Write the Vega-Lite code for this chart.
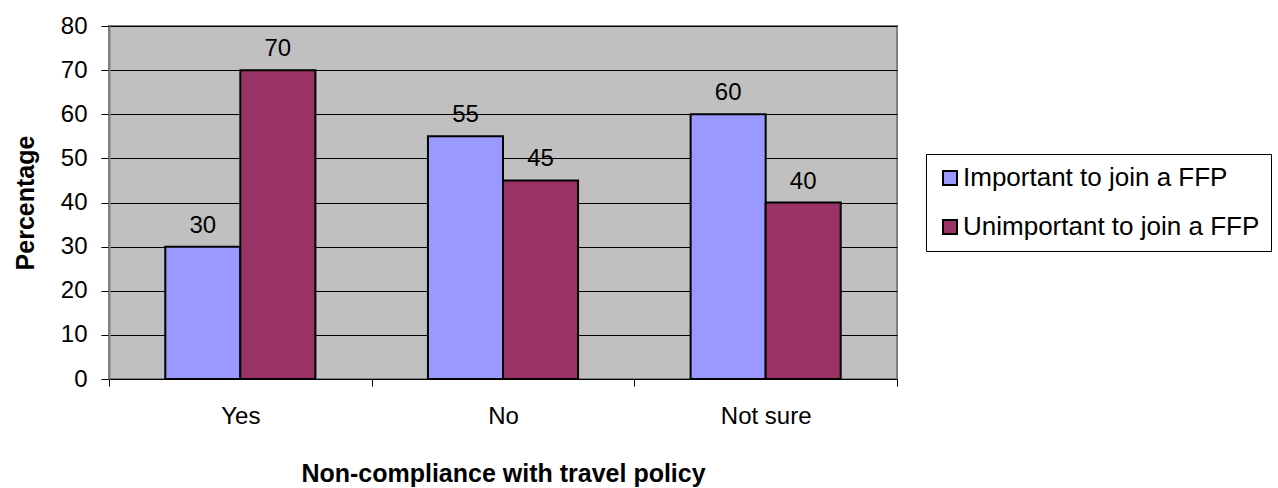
{
  "$schema": "https://vega.github.io/schema/vega-lite/v6.json",
  "autosize": {"type": "none"},
  "width": 788,
  "height": 353,
  "padding": {"left": 109, "top": 26, "right": 381, "bottom": 109},
  "background": "white",
  "config": {
    "font": "Liberation Sans",
    "view": {"fill": "#C0C0C0", "stroke": "#808080", "strokeWidth": 2}
  },
  "data": {
    "values": [
      {"answer": "Yes", "group": "Important to join a FFP", "pct": 30},
      {"answer": "Yes", "group": "Unimportant to join a FFP", "pct": 70},
      {"answer": "No", "group": "Important to join a FFP", "pct": 55},
      {"answer": "No", "group": "Unimportant to join a FFP", "pct": 45},
      {"answer": "Not sure", "group": "Important to join a FFP", "pct": 60},
      {"answer": "Not sure", "group": "Unimportant to join a FFP", "pct": 40}
    ]
  },
  "encoding": {
    "x": {
      "field": "answer",
      "type": "nominal",
      "sort": ["Yes", "No", "Not sure"],
      "scale": {"paddingInner": 0, "paddingOuter": 0},
      "axis": {
        "title": "Non-compliance with travel policy",
        "titleFontSize": 25,
        "titleFontWeight": "bold",
        "titleColor": "black",
        "titlePadding": 33,
        "labelAngle": 0,
        "labelFontSize": 24,
        "labelColor": "black",
        "labelPadding": 18,
        "tickBand": "extent",
        "tickSize": 7,
        "tickColor": "black",
        "domainColor": "black",
        "grid": false
      }
    },
    "xOffset": {
      "field": "group",
      "type": "nominal",
      "scale": {"paddingInner": 0, "paddingOuter": 0.75}
    },
    "y": {
      "field": "pct",
      "type": "quantitative",
      "scale": {"domain": [0, 80]},
      "axis": {
        "title": "Percentage",
        "titleFontSize": 25,
        "titleFontWeight": "bold",
        "titleColor": "black",
        "titlePadding": 22,
        "values": [0, 10, 20, 30, 40, 50, 60, 70, 80],
        "labelFontSize": 24,
        "labelColor": "black",
        "labelPadding": 14,
        "tickSize": 8,
        "tickColor": "black",
        "domainColor": "#808080",
        "domainWidth": 2,
        "grid": true,
        "gridColor": "black",
        "gridWidth": 1
      }
    }
  },
  "layer": [
    {
      "mark": {"type": "bar", "stroke": "black", "strokeWidth": 2},
      "encoding": {
        "color": {
          "field": "group",
          "type": "nominal",
          "scale": {"range": ["#9999FF", "#993366"]},
          "legend": {
            "title": null,
            "orient": "none",
            "legendX": 817,
            "legendY": 128,
            "direction": "vertical",
            "fillColor": "white",
            "strokeColor": "black",
            "padding": 11,
            "symbolType": "square",
            "symbolSize": 196,
            "symbolStrokeColor": "black",
            "symbolStrokeWidth": 2,
            "labelFontSize": 26,
            "labelColor": "black",
            "labelLimit": 400,
            "labelOffset": 0,
            "rowPadding": 23
          }
        }
      }
    },
    {
      "mark": {"type": "text", "baseline": "alphabetic", "dy": -14, "fontSize": 24, "color": "black"},
      "encoding": {
        "text": {"field": "pct", "type": "quantitative"}
      }
    }
  ]
}
